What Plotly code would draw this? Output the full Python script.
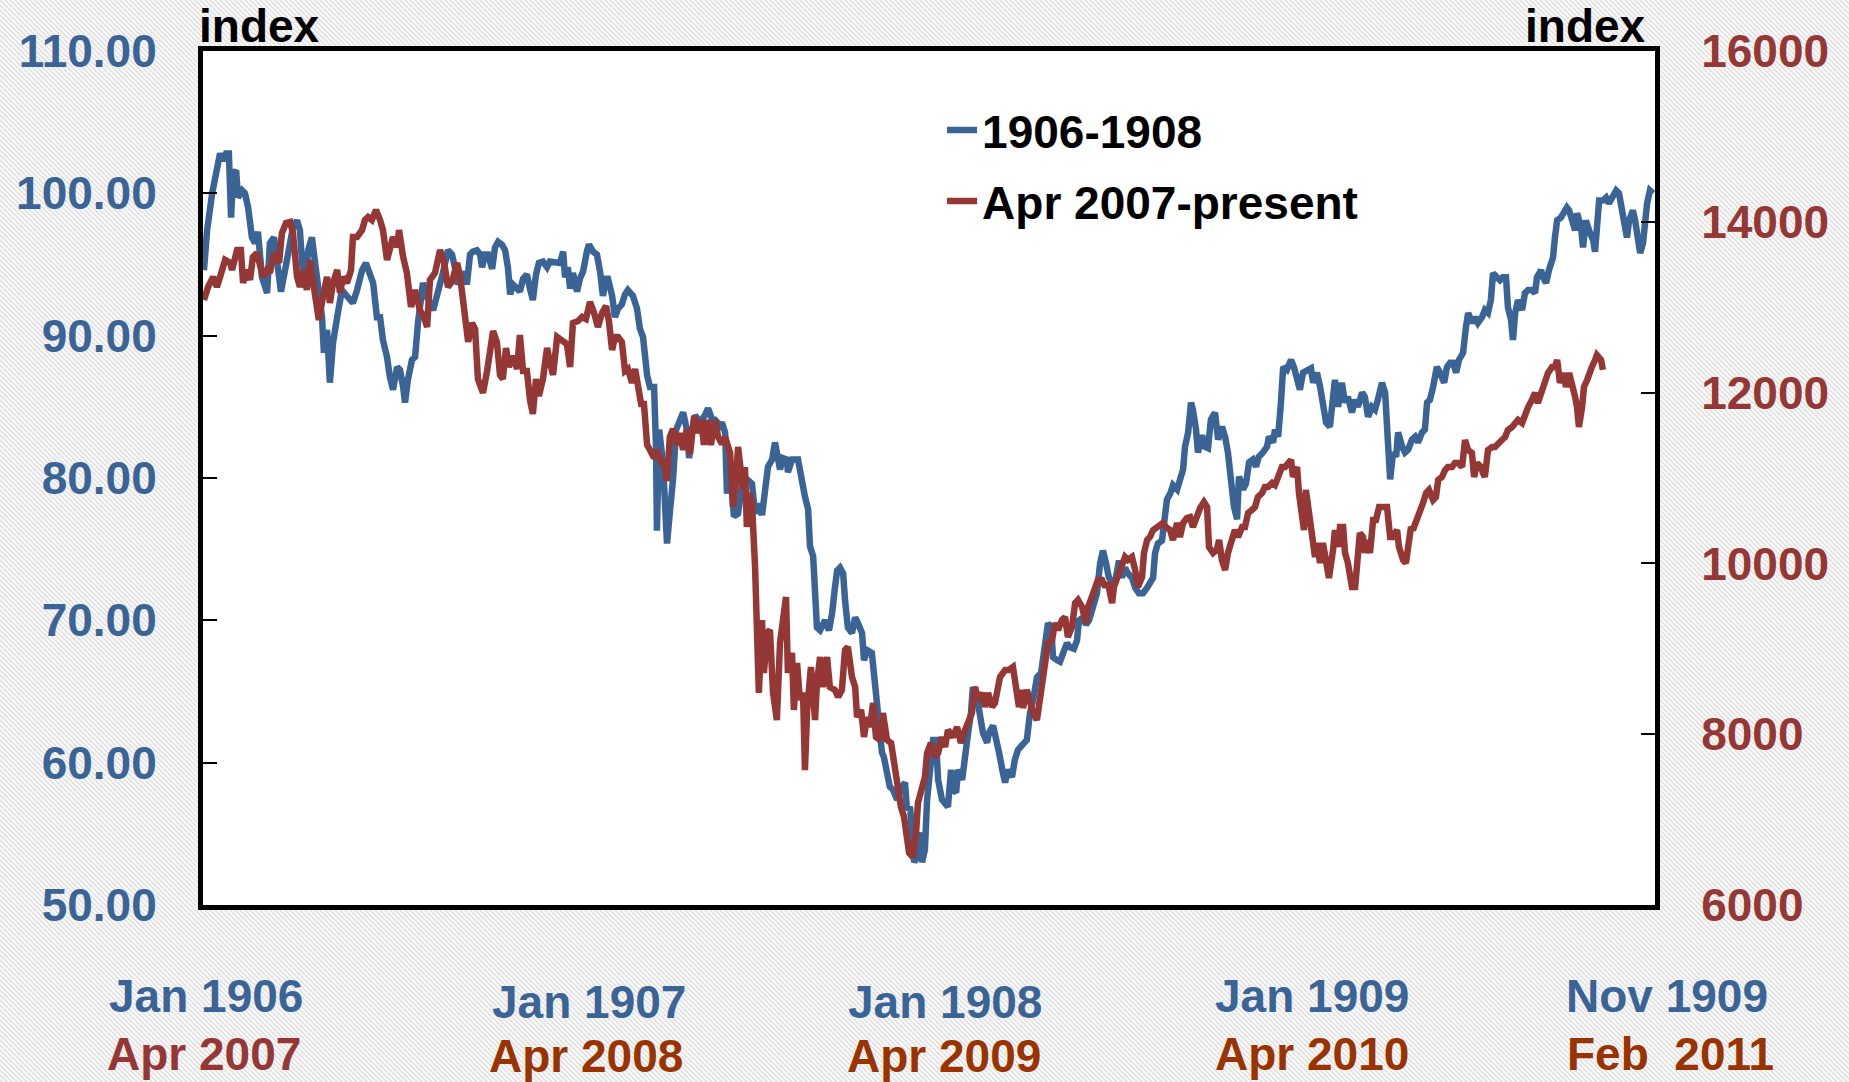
import base64
import plotly.graph_objects as go

# ---------------- data ----------------
# x = months since start of each episode (Jan 1906 / Apr 2007)
blue_month = [
    0.03, 0.13, 0.29, 0.44, 0.54, 0.63, 0.73, 0.82, 0.89, 0.95,
    1.05, 1.11, 1.24, 1.33, 1.43, 1.55, 1.65, 1.74, 1.87, 2.03,
    2.12, 2.25, 2.34, 2.47, 2.60, 2.76, 2.85, 2.98, 3.07, 3.14,
    3.23, 3.33, 3.45, 3.61, 3.77, 3.83, 3.93, 4.02, 4.12, 4.25,
    4.40, 4.59, 4.75, 4.88, 5.04, 5.16, 5.29, 5.39, 5.51, 5.61,
    5.70, 5.83, 5.92, 6.02, 6.15, 6.24, 6.34, 6.40, 6.49, 6.62,
    6.72, 6.81, 6.97, 7.10, 7.29, 7.45, 7.60, 7.76, 7.89, 7.98,
    8.08, 8.24, 8.36, 8.46, 8.55, 8.68, 8.78, 8.84, 8.93, 9.03,
    9.16, 9.25, 9.35, 9.47, 9.57, 9.66, 9.73, 9.82, 9.95, 10.04,
    10.14, 10.26, 10.36, 10.45, 10.55, 10.64, 10.77, 10.90, 10.99, 11.15,
    11.31, 11.41, 11.47, 11.56, 11.63, 11.72, 11.85, 11.94, 12.04, 12.17,
    12.23, 12.36, 12.48, 12.58, 12.67, 12.77, 12.83, 12.96, 13.05, 13.15,
    13.27, 13.37, 13.46, 13.62, 13.75, 13.84, 13.94, 14.07, 14.16, 14.29,
    14.35, 14.38, 14.45, 14.57, 14.70, 14.79, 14.89, 14.99, 15.11, 15.21,
    15.33, 15.40, 15.49, 15.59, 15.68, 15.81, 15.90, 16.00, 16.13, 16.22,
    16.38, 16.44, 16.54, 16.60, 16.70, 16.82, 16.95, 17.08, 17.23, 17.39,
    17.49, 17.58, 17.71, 17.80, 17.90, 18.03, 18.12, 18.18, 18.28, 18.37,
    18.50, 18.53, 18.66, 18.85, 18.98, 19.07, 19.17, 19.23, 19.33, 19.39,
    19.45, 19.55, 19.71, 19.83, 19.93, 20.02, 20.09, 20.18, 20.28, 20.34,
    20.43, 20.56, 20.66, 20.75, 20.88, 20.94, 21.04, 21.19, 21.29, 21.38,
    21.51, 21.57, 21.67, 21.76, 21.86, 21.99, 22.14, 22.24, 22.30, 22.40,
    22.46, 22.53, 22.62, 22.72, 22.78, 22.87, 22.94, 23.03, 23.13, 23.22,
    23.29, 23.41, 23.51, 23.60, 23.70, 23.76, 23.86, 23.92, 24.05, 24.14,
    24.24, 24.33, 24.39, 24.52, 24.62, 24.71, 24.84, 24.90, 25.03, 25.12,
    25.22, 25.34, 25.41, 25.50, 25.63, 25.72, 25.82, 26.10, 26.20, 26.30,
    26.42, 26.55, 26.67, 26.77, 26.87, 26.93, 27.06, 27.15, 27.25, 27.37,
    27.47, 27.59, 27.69, 27.75, 27.88, 27.97, 28.07, 28.20, 28.32, 28.42,
    28.51, 28.61, 28.70, 28.83, 28.92, 29.02, 29.11, 29.21, 29.30, 29.43,
    29.53, 29.65, 29.78, 29.91, 30.00, 30.10, 30.16, 30.25, 30.38, 30.48,
    30.54, 30.64, 30.73, 30.86, 30.95, 31.05, 31.11, 31.21, 31.30, 31.36,
    31.46, 31.52, 31.65, 31.74, 31.84, 31.93, 32.06, 32.16, 32.28, 32.38,
    32.47, 32.57, 32.66, 32.76, 32.82, 32.95, 33.04, 33.14, 33.26, 33.36,
    33.45, 33.58, 33.71, 33.77, 33.90, 33.96, 34.06, 34.15, 34.22, 34.34,
    34.47, 34.56, 34.66, 34.75, 34.85, 34.98, 35.10, 35.17, 35.29, 35.39,
    35.48, 35.58, 35.70, 35.80, 35.86, 35.96, 36.08, 36.18, 36.27, 36.40,
    36.50, 36.59, 36.72, 36.81, 36.91, 37.03, 37.13, 37.22, 37.35, 37.45,
    37.51, 37.54, 37.61, 37.70, 37.80, 37.86, 37.99, 38.08, 38.18, 38.30,
    38.40, 38.49, 38.62, 38.71, 38.78, 38.87, 38.97, 39.09, 39.19, 39.32,
    39.41, 39.51, 39.60, 39.70, 39.79, 39.92, 40.01, 40.08, 40.20, 40.30,
    40.39, 40.52, 40.61, 40.71, 40.80, 40.87, 40.99, 41.09, 41.18, 41.28,
    41.34, 41.44, 41.50, 41.57, 41.66, 41.79, 41.88, 41.98, 42.10, 42.20,
    42.26, 42.39, 42.45, 42.55, 42.64, 42.77, 42.83, 42.90, 43.02, 43.12,
    43.21, 43.28, 43.37, 43.47, 43.53, 43.66, 43.72, 43.81, 43.91, 44.04,
    44.10, 44.16, 44.23, 44.35, 44.45, 44.54, 44.67, 44.77, 44.86, 44.96,
    45.02, 45.11, 45.18, 45.30, 45.37, 45.43, 45.53, 45.62, 45.68, 45.75,
    45.84, 45.94,
]
blue_value = [
    94.6, 97.4, 100.0, 101.4, 102.8, 102.3, 102.8, 102.8, 98.3, 101.4,
    101.6, 99.7, 100.2, 100.0, 99.0, 96.9, 96.5, 97.3, 94.1, 93.0,
    96.5, 96.9, 95.3, 93.1, 94.6, 96.7, 97.6, 98.1, 97.4, 95.1,
    93.4, 96.0, 96.9, 94.1, 91.3, 88.8, 90.4, 86.7, 89.5, 91.3,
    93.2, 92.7, 92.3, 93.2, 94.6, 95.1, 94.4, 93.7, 91.3, 91.3,
    89.7, 88.5, 87.1, 86.2, 87.8, 87.6, 86.4, 85.3, 86.9, 88.3,
    88.5, 90.9, 93.7, 92.7, 91.8, 93.0, 94.4, 96.0, 95.7, 94.8,
    93.6, 94.5, 93.6, 95.7, 95.9, 96.0, 95.7, 94.8, 95.7, 95.7,
    94.7, 96.2, 96.6, 96.4, 96.0, 94.8, 92.9, 93.6, 93.3, 93.1,
    94.0, 94.3, 93.3, 92.5, 94.3, 95.1, 95.2, 94.8, 95.2, 95.1,
    95.1, 95.9, 94.1, 94.8, 93.3, 94.4, 93.1, 94.0, 94.5, 96.0,
    96.4, 95.9, 95.7, 94.5, 92.8, 94.0, 94.0, 92.8, 91.3, 91.9,
    92.2, 92.9, 93.2, 92.8, 91.9, 90.5, 89.9, 87.2, 86.4, 86.4,
    82.3, 76.3, 83.4, 81.1, 75.4, 77.6, 79.9, 83.4, 84.1, 84.6,
    83.4, 81.4, 83.2, 84.4, 84.1, 84.1, 84.4, 84.9, 84.1, 84.1,
    83.7, 83.9, 83.2, 78.9, 80.8, 77.3, 77.5, 79.6, 79.9, 79.6,
    77.5, 78.2, 77.4, 79.6, 80.8, 81.3, 82.5, 81.8, 80.6, 81.4,
    81.3, 80.4, 81.3, 81.3, 79.4, 78.7, 77.8, 75.2, 74.5, 71.4,
    69.5, 69.3, 70.0, 69.3, 70.5, 72.3, 73.5, 73.7, 73.3, 71.4,
    69.5, 69.1, 70.2, 69.8, 69.1, 67.2, 67.9, 67.7, 65.6, 63.2,
    60.7, 60.4, 59.0, 58.3, 58.1, 57.4, 58.3, 58.6, 56.7, 56.9,
    55.1, 53.0, 53.4, 55.1, 53.0, 53.9, 57.4, 59.7, 61.6, 61.6,
    58.8, 57.4, 57.2, 56.9, 59.5, 58.1, 57.9, 59.5, 58.8, 60.9,
    62.1, 63.5, 65.3, 64.6, 63.0, 62.1, 61.4, 62.1, 62.6, 61.8,
    60.7, 59.3, 58.6, 59.5, 59.0, 60.2, 60.9, 61.6, 63.5, 64.4,
    66.0, 66.3, 68.1, 69.8, 69.5, 67.4, 67.2, 67.1, 67.7, 68.4,
    68.1, 68.0, 68.6, 70.0, 70.2, 69.7, 70.0, 70.9, 71.9, 74.0,
    74.9, 74.0, 73.0, 72.6, 73.0, 74.2, 73.0, 73.7, 73.3, 73.0,
    72.3, 71.9, 71.9, 72.3, 72.6, 73.0, 74.7, 75.4, 75.6, 77.0,
    78.5, 78.9, 79.5, 79.2, 80.1, 80.6, 82.2, 83.2, 85.3, 84.8,
    83.4, 81.8, 83.0, 82.2, 82.1, 84.1, 84.6, 82.7, 83.6, 82.9,
    81.8, 79.4, 78.0, 77.1, 80.1, 79.2, 79.6, 81.1, 81.3, 80.8,
    81.5, 81.8, 82.2, 82.9, 82.5, 83.4, 82.9, 85.3, 87.8, 87.6,
    88.3, 87.8, 86.9, 86.2, 87.4, 87.6, 87.7, 86.7, 87.4, 86.4,
    85.3, 83.9, 83.6, 86.2, 86.9, 85.0, 86.7, 85.3, 85.7, 84.6,
    85.5, 85.0, 86.0, 85.7, 84.3, 85.0, 84.8, 85.5, 86.7, 86.0,
    84.3, 82.5, 79.9, 81.8, 81.5, 83.2, 82.2, 81.8, 82.0, 82.7,
    82.9, 82.5, 83.2, 83.4, 85.3, 85.5, 86.4, 87.8, 87.4, 86.7,
    87.8, 88.1, 88.1, 87.4, 88.3, 88.8, 90.6, 91.6, 90.9, 91.3,
    90.9, 91.3, 91.8, 91.6, 92.5, 94.4, 94.1, 93.9, 94.1, 94.1,
    92.0, 91.1, 89.7, 91.6, 92.5, 91.8, 93.0, 93.2, 93.2, 93.0,
    94.1, 94.6, 94.1, 93.7, 94.6, 95.5, 96.9, 98.1, 98.3, 98.8,
    99.0, 98.8, 97.9, 97.4, 98.6, 97.6, 96.2, 98.1, 97.4, 96.7,
    95.9, 97.6, 99.5, 99.5, 99.7, 99.3, 99.7, 100.2, 100.0, 98.8,
    98.1, 96.9, 98.1, 98.8, 98.1, 96.9, 95.8, 96.5, 98.1, 99.3,
    100.2, 100.0,
]

red_month = [
    0.03, 0.16, 0.32, 0.44, 0.54, 0.70, 0.86, 0.92, 1.08, 1.20,
    1.27, 1.39, 1.49, 1.58, 1.71, 1.81, 1.90, 2.03, 2.12, 2.22,
    2.34, 2.41, 2.50, 2.63, 2.76, 2.85, 2.98, 3.07, 3.17, 3.29,
    3.39, 3.48, 3.61, 3.67, 3.80, 3.93, 4.02, 4.12, 4.25, 4.34,
    4.44, 4.56, 4.69, 4.75, 4.88, 5.04, 5.13, 5.23, 5.35, 5.48,
    5.61, 5.70, 5.83, 5.92, 6.02, 6.15, 6.21, 6.34, 6.46, 6.59,
    6.72, 6.87, 7.00, 7.10, 7.19, 7.35, 7.51, 7.64, 7.76, 7.89,
    7.98, 8.05, 8.14, 8.24, 8.30, 8.40, 8.52, 8.62, 8.71, 8.87,
    9.00, 9.09, 9.19, 9.31, 9.41, 9.50, 9.60, 9.69, 9.82, 9.95,
    10.04, 10.14, 10.26, 10.36, 10.45, 10.55, 10.64, 10.77, 10.90, 10.99,
    11.09, 11.22, 11.37, 11.53, 11.63, 11.72, 11.88, 12.01, 12.13, 12.26,
    12.39, 12.51, 12.64, 12.77, 12.86, 12.96, 13.05, 13.15, 13.27, 13.37,
    13.46, 13.59, 13.69, 13.78, 13.88, 13.97, 14.07, 14.16, 14.29, 14.38,
    14.51, 14.60, 14.70, 14.79, 14.89, 15.02, 15.11, 15.21, 15.33, 15.43,
    15.56, 15.65, 15.78, 15.87, 15.97, 16.09, 16.22, 16.32, 16.44, 16.54,
    16.70, 16.79, 16.89, 16.95, 17.04, 17.11, 17.17, 17.23, 17.30, 17.39,
    17.49, 17.55, 17.61, 17.71, 17.77, 17.87, 17.96, 18.06, 18.18, 18.28,
    18.37, 18.47, 18.53, 18.66, 18.72, 18.82, 18.91, 19.01, 19.07, 19.14,
    19.26, 19.39, 19.45, 19.55, 19.64, 19.77, 19.86, 20.02, 20.12, 20.24,
    20.34, 20.43, 20.56, 20.66, 20.72, 20.85, 20.94, 21.04, 21.13, 21.23,
    21.32, 21.45, 21.54, 21.67, 21.80, 21.89, 21.99, 22.11, 22.21, 22.30,
    22.37, 22.49, 22.59, 22.65, 22.78, 22.87, 22.94, 23.06, 23.19, 23.29,
    23.41, 23.51, 23.60, 23.76, 23.89, 24.01, 24.14, 24.24, 24.36, 24.46,
    24.55, 24.68, 24.77, 24.87, 25.00, 25.09, 25.25, 25.41, 25.53, 25.66,
    25.76, 25.85, 25.95, 25.98, 26.10, 26.20, 26.30, 26.42, 26.49, 26.58,
    26.67, 26.77, 26.90, 26.99, 27.09, 27.21, 27.31, 27.40, 27.53, 27.63,
    27.72, 27.85, 27.97, 28.04, 28.16, 28.26, 28.35, 28.48, 28.58, 28.67,
    28.80, 28.86, 28.96, 29.11, 29.21, 29.30, 29.43, 29.53, 29.62, 29.75,
    29.81, 29.91, 30.00, 30.10, 30.19, 30.29, 30.41, 30.51, 30.64, 30.73,
    30.86, 30.95, 31.05, 31.17, 31.27, 31.36, 31.49, 31.59, 31.71, 31.81,
    31.87, 32.00, 32.12, 32.19, 32.28, 32.38, 32.47, 32.60, 32.69, 32.79,
    32.92, 33.01, 33.11, 33.23, 33.33, 33.42, 33.55, 33.64, 33.74, 33.87,
    33.96, 34.06, 34.18, 34.28, 34.37, 34.47, 34.53, 34.66, 34.72, 34.82,
    34.88, 34.94, 35.04, 35.17, 35.23, 35.29, 35.39, 35.48, 35.58, 35.67,
    35.80, 35.86, 35.96, 36.02, 36.12, 36.18, 36.27, 36.40, 36.50, 36.56,
    36.65, 36.75, 36.81, 36.88, 36.97, 37.07, 37.16, 37.26, 37.38, 37.51,
    37.61, 37.70, 37.83, 37.89, 38.02, 38.11, 38.18, 38.27, 38.33, 38.46,
    38.56, 38.65, 38.75, 38.84, 38.97, 39.06, 39.13, 39.25, 39.35, 39.44,
    39.57, 39.66, 39.76, 39.89, 39.98, 40.08, 40.20, 40.27, 40.36, 40.49,
    40.55, 40.61, 40.71, 40.84, 40.93, 41.03, 41.15, 41.25, 41.34, 41.47,
    41.57, 41.66, 41.79, 41.88, 41.98, 42.10, 42.20, 42.29, 42.42, 42.52,
    42.61, 42.74, 42.83, 42.90, 42.99, 43.09, 43.18, 43.28, 43.41, 43.47,
    43.53, 43.59, 43.69, 43.75, 43.85, 43.91, 44.00, 44.10, 44.16, 44.29,
    44.35,
]
red_value = [
    13085, 13237, 13354, 13237, 13354, 13553, 13518, 13436, 13670, 13670,
    13284, 13436, 13319, 13588, 13635, 13436, 13354, 13436, 13401, 13588,
    13635, 13518, 13869, 13986, 13998, 13869, 13354, 13237, 13436, 13202,
    13553, 13319, 13050, 12850, 13120, 13354, 13050, 13284, 13436, 13167,
    13354, 13284, 13436, 13822, 13822, 13904, 14021, 14056, 14021, 14138,
    14021, 13904, 13553, 13670, 13822, 13705, 13904, 13588, 13401, 13003,
    13202, 12967, 12885, 12768, 13319, 13401, 13670, 13518, 13237, 13300,
    13424, 13518, 13377, 13038, 12815, 12593, 12815, 12745, 12159, 11996,
    12253, 12452, 12722, 12593, 12206, 12159, 12522, 12300, 12429, 12277,
    12675, 12253, 12253, 11914, 11750, 12159, 11961, 12159, 12522, 12359,
    12206, 12651, 12616, 12569, 12300, 12815, 12838, 12885, 12862, 13061,
    12932, 12768, 12932, 13014, 12838, 12499, 12651, 12651, 12593, 12253,
    12277, 12113, 12277, 12066, 11867, 11867, 11387, 11328, 11234, 11328,
    11188, 11188, 10965, 11480, 11574, 11387, 11527, 11328, 11574, 11281,
    11726, 11527, 11679, 11387, 11679, 11387, 11679, 11480, 11400, 11480,
    11293, 10661, 10977, 11363, 11059, 10860, 11129, 10427, 10824, 10707,
    9958, 9185, 8483, 9337, 8717, 9185, 9220, 8483, 8166, 9068,
    9302, 9607, 8717, 8951, 8284, 8834, 8401, 8483, 7580, 8284,
    8787, 8166, 8600, 8904, 8553, 8904, 8553, 8518, 8436, 8518,
    8986, 9021, 8670, 8553, 8201, 8284, 7967, 8201, 8084, 8365,
    7967, 7932, 8248, 7932, 7897, 7663, 7382, 7148, 7030, 6726,
    6609, 6562, 6843, 7194, 7382, 7499, 7780, 7897, 7733, 7780,
    7967, 7850, 8049, 7967, 8084, 7897, 8049, 8166, 8248, 8553,
    8401, 8483, 8319, 8483, 8319, 8365, 8670, 8752, 8752, 8787,
    8553, 8319, 8518, 8307, 8518, 8365, 8248, 8166, 8365, 8670,
    8869, 9068, 9103, 9302, 9220, 9337, 9372, 9138, 9255, 9536,
    9572, 9490, 9302, 9490, 9607, 9689, 9806, 9806, 9724, 9771,
    9536, 9724, 9841, 9958, 10075, 10040, 10075, 9923, 9724, 9841,
    10122, 10274, 10309, 10391, 10414, 10450, 10473, 10426, 10391, 10274,
    10473, 10309, 10473, 10532, 10543, 10426, 10590, 10649, 10719, 10661,
    10192, 10122, 10157, 10274, 10040, 9923, 10122, 10274, 10391, 10309,
    10426, 10426, 10590, 10626, 10661, 10778, 10824, 10895, 10895, 10941,
    10918, 11012, 11129, 11129, 11176, 11211, 11012, 11129, 10824, 10473,
    10391, 10860, 10590, 10122, 10075, 10239, 10005, 10239, 10040, 9829,
    10157, 10391, 10192, 10426, 10426, 10122, 10005, 9724, 9724, 10005,
    10356, 10309, 10122, 10274, 10122, 10508, 10508, 10661, 10661, 10661,
    10309, 10309, 10391, 10192, 10040, 10005, 10192, 10426, 10391, 10508,
    10625, 10707, 10824, 10860, 10742, 10778, 10977, 11012, 11094, 11129,
    11129, 11176, 11176, 11129, 11445, 11328, 11293, 11012, 11176, 11129,
    11059, 11012, 11328, 11363, 11363, 11410, 11445, 11480, 11562, 11597,
    11644, 11679, 11644, 11761, 11831, 11914, 11996, 11878, 12030, 12113,
    12229, 12300, 12300, 12382, 12113, 12229, 12066, 12229, 12066, 11949,
    11831, 11597, 11831, 12066, 12148, 12229, 12300, 12382, 12440, 12382,
    12265,
]

series_names = ["1906-1908", "Apr 2007-present"]
axis_titles = ["index", "index"]
period_labels_1900s = ["Jan 1906", "Jan 1907", "Jan 1908", "Jan 1909", "Nov 1909"]
period_labels_2000s = ["Apr 2007", "Apr 2008", "Apr 2009", "Apr 2010", "Feb\u00a0 2011"]

assert len(blue_month) == len(blue_value)
assert len(red_month) == len(red_value)

# ---------------- styles ----------------
BLUE = "#3A6496"
RED = "#953735"
BROWN = "#993300"
FONT = "Liberation Sans, Arial, sans-serif"
FS = 46

W, H = 1849, 1082
ML, MR, MT, MB = 203, 194, 51, 177
PW, PH = W - ML - MR, H - MT - MB

fig = go.Figure()
fig.add_trace(go.Scatter(
    x=blue_month, y=blue_value, mode="lines", name=series_names[0],
    line=dict(color=BLUE, width=6.5), legendgroup="a",
))
fig.add_trace(go.Scatter(
    x=red_month, y=red_value, mode="lines", name=series_names[1],
    line=dict(color=RED, width=6.5), legendgroup="b", yaxis="y2",
))

# hatched background as an inline SVG image
svg = (
    f"<svg xmlns='http://www.w3.org/2000/svg' width='{W}' height='{H}'>"
    "<defs><pattern id='p' width='5' height='5' patternUnits='userSpaceOnUse'>"
    "<rect width='5' height='5' fill='#fbfbfb'/>"
    "<path d='M-1,-1L6,6M-1,4L1,6M4,-1L6,1' stroke='#e2e2e2' stroke-width='1.6'/>"
    "</pattern></defs>"
    f"<rect width='{W}' height='{H}' fill='url(#p)'/></svg>"
)
bg_uri = "data:image/svg+xml;base64," + base64.b64encode(svg.encode()).decode()

annotations = []
top_x = [0.002, 0.266, 0.511, 0.764, 1.008]
top_y = [-0.1066, -0.1136, -0.1136, -0.1066, -0.1066]
bot_x = [0.001, 0.264, 0.510, 0.764, 1.011]
bot_y = [-0.174, -0.1772, -0.1772, -0.174, -0.174]
bot_colors = [RED, BROWN, BROWN, BROWN, BROWN]
for i in range(5):
    annotations.append(dict(
        text=period_labels_1900s[i], xref="paper", yref="paper", x=top_x[i], y=top_y[i],
        xanchor="center", yanchor="middle", showarrow=False,
        font=dict(family=FONT, size=FS, color=BLUE, weight="bold"),
    ))
    annotations.append(dict(
        text=period_labels_2000s[i], xref="paper", yref="paper", x=bot_x[i], y=bot_y[i],
        xanchor="center", yanchor="middle", showarrow=False,
        font=dict(family=FONT, size=FS, color=bot_colors[i], weight="bold"),
    ))
annotations.append(dict(
    text=axis_titles[0], xref="paper", yref="paper", x=0.039, y=1.029,
    xanchor="center", yanchor="middle", showarrow=False,
    font=dict(family=FONT, size=FS, color="black", weight="bold"),
))
annotations.append(dict(
    text=axis_titles[1], xref="paper", yref="paper", x=0.952, y=1.029,
    xanchor="center", yanchor="middle", showarrow=False,
    font=dict(family=FONT, size=FS, color="black", weight="bold"),
))

fig.update_layout(
    width=W, height=H,
    margin=dict(l=ML, r=MR, t=MT, b=MB, pad=0),
    paper_bgcolor="#f3f3f3",
    plot_bgcolor="white",
    showlegend=True,
    legend=dict(
        x=0.509, y=0.950, xanchor="left", yanchor="top",
        font=dict(family=FONT, size=FS, color="black", weight="bold"),
        bgcolor="rgba(0,0,0,0)", tracegroupgap=8, traceorder="grouped",
    ),
    xaxis=dict(
        range=[0, 46], showline=True, linecolor="black", linewidth=5, mirror=True,
        showgrid=False, zeroline=False, showticklabels=False, ticks="",
    ),
    yaxis=dict(
        range=[50, 110], tick0=50, dtick=10, tickformat=".2f",
        ticks="inside", ticklen=14, tickwidth=2, tickcolor="black",
        showline=True, linecolor="black", linewidth=5, mirror=True,
        showgrid=False, zeroline=False, ticklabelstandoff=32,
        tickfont=dict(family=FONT, size=FS, color=BLUE, weight="bold"),
    ),
    yaxis2=dict(
        range=[6000, 16000], tick0=6000, dtick=2000, tickformat="d",
        overlaying="y", side="right",
        ticks="inside", ticklen=14, tickwidth=2, tickcolor="black",
        showline=True, linecolor="black", linewidth=5,
        showgrid=False, zeroline=False, ticklabelstandoff=32,
        tickfont=dict(family=FONT, size=FS, color=RED, weight="bold"),
    ),
    images=[dict(
        source=bg_uri, xref="paper", yref="paper",
        x=-ML / PW, y=1 + MT / PH, sizex=W / PW, sizey=H / PH,
        xanchor="left", yanchor="top", sizing="stretch", layer="below",
    )],
    shapes=[dict(
        type="rect", xref="paper", yref="paper", x0=0, x1=1, y0=0, y1=1,
        fillcolor="white", line=dict(width=0), layer="below",
    )],
    annotations=annotations,
)

fig.write_html(
    "out.html",
    config={"displayModeBar": False},
    post_script="document.body.style.margin='0';document.body.style.overflow='hidden';",
)
